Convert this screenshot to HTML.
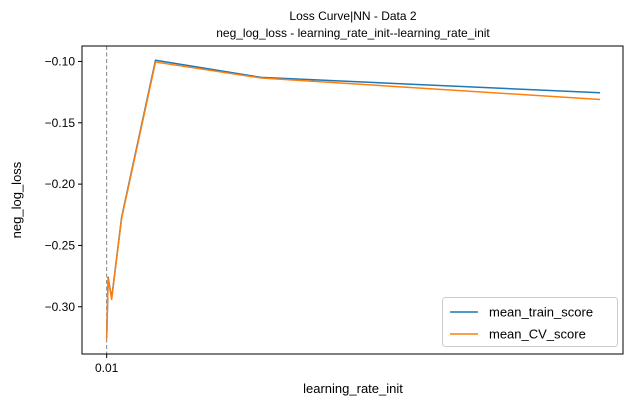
<!DOCTYPE html>
<html><head><meta charset="utf-8"><style>
body{margin:0;background:#fff;}
svg text{font-family:"Liberation Sans","DejaVu Sans",sans-serif;fill:#000;}
</style></head><body>
<svg id="chart" width="634" height="407">
<text x="353" y="20" font-size="12" text-anchor="middle">Loss Curve|NN - Data 2</text>
<text x="353" y="37" font-size="12" text-anchor="middle">neg_log_loss - learning_rate_init--learning_rate_init</text>
<text x="353" y="393" font-size="13" text-anchor="middle">learning_rate_init</text>
<text transform="translate(21,200) rotate(-90)" font-size="13" text-anchor="middle">neg_log_loss</text>
<g id="plot"></g>
</svg>
<script>
const lrValues=[0.01,0.013,0.02,0.04,0.108,0.32,1.0];
const trainScores=[-0.325,-0.276,-0.293,-0.227,-0.099,-0.113,-0.1255];
const cvScores=[-0.326,-0.277,-0.294,-0.228,-0.1005,-0.1135,-0.131];
const yTicks=[-0.10,-0.15,-0.20,-0.25,-0.30];
const yTickLabels=["\u22120.10","\u22120.15","\u22120.20","\u22120.25","\u22120.30"];
const xTicks=[0.01];
const xTickLabels=["0.01"];
const L=82,R=623,T=46,B=354;
const x0=-0.0395,x1=1.046,y0=-0.3385,y1=-0.0874;
const sx=v=>L+(v-x0)/(x1-x0)*(R-L);
const sy=v=>B-(v-y0)/(y1-y0)*(B-T);
const NS="http://www.w3.org/2000/svg";
const g=document.getElementById('plot');
function mk(t,a){const e=document.createElementNS(NS,t);for(const k in a)e.setAttribute(k,a[k]);g.appendChild(e);return e;}
let e;
e=mk('line',{x1:sx(lrValues[0]),x2:sx(lrValues[0]),y1:T,y2:B,stroke:'#808080','stroke-width':1,'stroke-dasharray':'4,2.5'});


yTicks.forEach((v,i)=>{
 e=mk('line',{x1:L-4,x2:L,y1:sy(v),y2:sy(v),stroke:'#000'});
 
 
 e=mk('text',{x:L-7,y:sy(v)+4,'font-size':12,'text-anchor':'end'});e.textContent=yTickLabels[i];
 
 
});
xTicks.forEach((v,i)=>{
 e=mk('line',{x1:sx(v),x2:sx(v),y1:B,y2:B+4,stroke:'#000'});
 
 
 e=mk('text',{x:sx(v),y:B+18,'font-size':12,'text-anchor':'middle'});e.textContent=xTickLabels[i];
 
 
});
function series(vals,color,name){
 const p=lrValues.map((v,i)=>sx(v).toFixed(2)+','+sy(vals[i]).toFixed(2)).join(' ');
 const s=mk('polyline',{points:p,fill:'none',stroke:color,'stroke-width':1.5,'stroke-linejoin':'round'});
 
 
}
series(trainScores,'#1f77b4','train-score-line');
series(cvScores,'#ff7f0e','cv-score-line');
e=mk('rect',{x:L,y:T,width:R-L,height:B-T,fill:'none',stroke:'#000','stroke-width':1});


e=mk('rect',{x:442.5,y:297.5,width:175,height:49,fill:'#fff',stroke:'#ccc',rx:3});


[['mean_train_score','#1f77b4',312],['mean_CV_score','#ff7f0e',334]].forEach(([t,c,y])=>{
 e=mk('line',{x1:450,x2:478,y1:y,y2:y,stroke:c,'stroke-width':1.5});
 
 
 e=mk('text',{x:489,y:y+4.5,'font-size':13});e.textContent=t;
 
 
});
</script>
</body></html>
